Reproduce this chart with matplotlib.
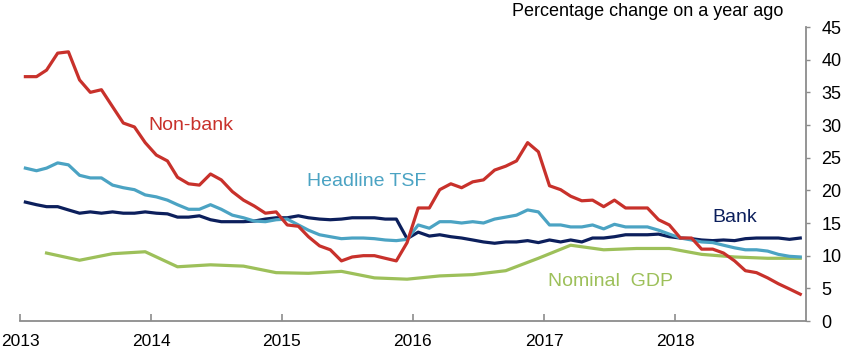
import numpy as np
import pandas as pd
import matplotlib
matplotlib.use("Agg")
from matplotlib import pyplot as plt
import matplotlib.dates as mdates

plt.rcParams['font.family'] = ['Liberation Sans', 'DejaVu Sans']

# monthly series, Jan 2013 - Dec 2018 (per cent change on a year ago)
non_bank = [37.4, 37.4, 38.4, 41.0, 41.2, 36.9, 35.0, 35.4, 32.8, 30.3, 29.7, 27.3,
            25.4, 24.5, 22.0, 21.0, 20.8, 22.5, 21.6, 19.8, 18.5, 17.6, 16.5, 16.7,
            14.7, 14.5, 12.9, 11.5, 10.9, 9.2, 9.8, 10.0, 10.0, 9.6, 9.2, 12.0,
            17.3, 17.3, 20.1, 21.0, 20.4, 21.3, 21.6, 23.1, 23.7, 24.5, 27.3, 25.9,
            20.7, 20.1, 19.1, 18.4, 18.5, 17.5, 18.5, 17.3, 17.3, 17.3, 15.5, 14.7,
            12.7, 12.7, 11.0, 11.0, 10.4, 9.2, 7.7, 7.4, 6.6, 5.7, 4.9, 4.1]

headline_tsf = [23.4, 23.0, 23.4, 24.2, 23.9, 22.3, 21.9, 21.9, 20.8, 20.4, 20.1, 19.3,
                19.0, 18.5, 17.8, 17.1, 17.1, 17.8, 17.1, 16.2, 15.8, 15.3, 15.2, 15.5,
                15.6, 14.7, 13.9, 13.2, 12.9, 12.6, 12.7, 12.7, 12.6, 12.4, 12.3, 12.5,
                14.7, 14.2, 15.2, 15.2, 15.0, 15.2, 15.0, 15.6, 15.9, 16.2, 17.0, 16.7,
                14.7, 14.7, 14.4, 14.4, 14.7, 14.1, 14.8, 14.4, 14.4, 14.4, 13.9, 13.3,
                12.7, 12.4, 12.1, 12.0, 11.6, 11.2, 10.9, 10.9, 10.7, 10.2, 9.9, 9.8]

bank = [18.2, 17.8, 17.5, 17.5, 17.0, 16.5, 16.7, 16.5, 16.7, 16.5, 16.5, 16.7,
        16.5, 16.4, 15.9, 15.9, 16.1, 15.5, 15.2, 15.2, 15.2, 15.3, 15.6, 15.8,
        15.8, 16.1, 15.8, 15.6, 15.5, 15.6, 15.8, 15.8, 15.8, 15.6, 15.6, 12.6,
        13.6, 13.0, 13.2, 12.9, 12.7, 12.4, 12.1, 11.9, 12.1, 12.1, 12.3, 12.0,
        12.4, 12.1, 12.4, 12.1, 12.7, 12.7, 12.9, 13.2, 13.2, 13.2, 13.3, 12.9,
        12.7, 12.6, 12.4, 12.3, 12.4, 12.3, 12.6, 12.7, 12.7, 12.7, 12.5, 12.7]

# quarterly nominal GDP, 2013Q1 - 2018Q4
nominal_gdp = [10.4, 9.3, 10.3, 10.6, 8.3, 8.6, 8.4, 7.4, 7.3, 7.6, 6.6, 6.4,
               6.9, 7.1, 7.7, 9.6, 11.6, 10.9, 11.1, 11.1, 10.2, 9.8, 9.6, 9.6]

year_ticks = [2013, 2014, 2015, 2016, 2017, 2018]
y_ticks = [0, 5, 10, 15, 20, 25, 30, 35, 40, 45]

months = pd.date_range('2013-01-01', periods=72, freq='MS') + pd.Timedelta(days=15)
quarters = months[2::3]

c_red = '#C8312B'
c_tsf = '#4BA3C3'
c_bank = '#0C1F5C'
c_gdp = '#9DC05A'
c_axis = '#8C8C8C'

W, H = 850, 360
fig = plt.figure(figsize=(8.5, 3.6), dpi=100)
ax = fig.add_axes([20/W, 39/H, 786/W, 294/H])

ax.plot(quarters, nominal_gdp, color=c_gdp, lw=2.3, solid_joinstyle='round')
ax.plot(months, bank, color=c_bank, lw=2.3, solid_joinstyle='round')
ax.plot(months, headline_tsf, color=c_tsf, lw=2.3, solid_joinstyle='round')
ax.plot(months, non_bank, color=c_red, lw=2.3, solid_joinstyle='round')

ax.set_xlim(pd.Timestamp('2013-01-01'), pd.Timestamp('2019-01-01'))
ax.set_ylim(0, 45)
ax.set_xticks([pd.Timestamp(f'{y}-01-01') for y in year_ticks])
ax.xaxis.set_major_formatter(mdates.DateFormatter('%Y'))
ax.set_yticks(y_ticks)

ax.yaxis.tick_right()
for s in ['top', 'left']:
    ax.spines[s].set_visible(False)
for s in ['bottom', 'right']:
    ax.spines[s].set_color(c_axis)
    ax.spines[s].set_linewidth(1.3)
ax.tick_params(axis='x', direction='in', length=5, width=1.2, color=c_axis,
               labelsize=12.5, pad=9)
ax.tick_params(axis='y', direction='out', length=3, width=1, color=c_axis,
               labelsize=13, pad=8)

# series labels, placed in figure pixels
fig.text(148/W, 1 - 126/H, 'Non-bank', color=c_red, fontsize=14, va='center')
fig.text(307/W, 1 - 182/H, 'Headline TSF', color=c_tsf, fontsize=14, va='center')
fig.text(712/W, 1 - 218/H, 'Bank', color=c_bank, fontsize=14, va='center')
fig.text(548/W, 1 - 281/H, 'Nominal  GDP', color=c_gdp, fontsize=14, va='center')

fig.text(783/W, 1 - 12/H, 'Percentage change on a year ago', ha='right', va='center',
         fontsize=13, color='black')

fig.savefig('out.png', dpi=100)
